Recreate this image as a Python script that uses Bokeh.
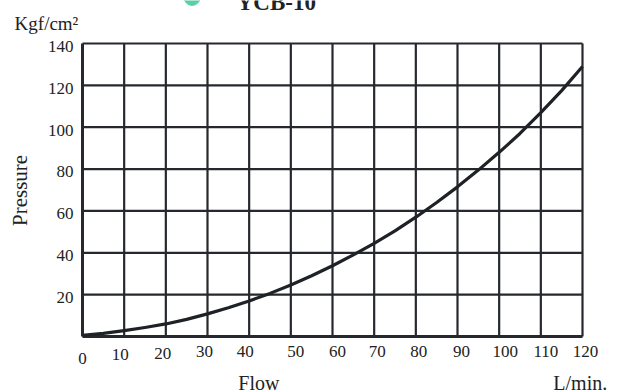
import math
from bokeh.plotting import figure
from bokeh.models import Range1d, ColumnDataSource
from bokeh.core.properties import value
from bokeh.embed import file_html
from bokeh.resources import INLINE

# Data
flow = [0, 5, 10, 15, 20, 25, 30, 35, 40, 45, 50, 55, 60, 65, 70, 75, 80, 85, 90,
        95, 100, 105, 110, 115, 120]
pressure = [0.5, 1.5, 2.8, 4.3, 6, 8.2, 10.8, 13.7, 17, 20.6, 24.6, 29, 33.8, 39,
            44.5, 50.5, 57, 64, 71.5, 79.5, 88, 97, 107, 117.5, 129]
x_ticks = [0, 10, 20, 30, 40, 50, 60, 70, 80, 90, 100, 110, 120]
x_tick_labels = ["0", "10", "20", "30", "40", "50", "60", "70", "80", "90", "100", "110", "120"]
y_ticks = [20, 40, 60, 80, 100, 120, 140]
y_tick_labels = ["20", "40", "60", "80", "100", "120", "140"]
x_grid = [10, 20, 30, 40, 50, 60, 70, 80, 90, 100, 110, 120]
y_grid = [20, 40, 60, 80, 100, 120, 140]
X_MAX, Y_MAX = 120, 140

# label placement styles (pixel nudges of the staggered tick labels)
x_label_dx = [0, -4, -3, -3, -4, 5, 5, 3, 3, 4, 6, 5, 3]
x_label_dy = [21.9, 18.2, 16.9, 14.9, 14.9, 14.5, 14.5, 14.5, 14.5, 14.5, 14.5, 14.5, 14.5]

FONT = "Liberation Serif"
INK = "#25292e"
TXT = "#222222"

# Frame covers the whole canvas; the chart box (0..120, 0..140) sits at
# px 82..582 horizontally and 43..336 vertically.
W, H = 635, 392
L, R, T, B = 82, 582, 43, 336
sx = (R - L) / X_MAX
sy = (B - T) / Y_MAX
xr = Range1d(-L / sx, (W - L) / sx)
yr = Range1d(-(H - B) / sy, B / sy)

p = figure(width=W, height=H, output_backend="svg", toolbar_location=None,
           x_range=xr, y_range=yr, x_axis_type=None, y_axis_type=None,
           min_border=0)
p.outline_line_color = None
p.background_fill_color = "white"
p.border_fill_color = "white"
p.grid.visible = False

# grid / box lines
p.segment(x0=x_grid, y0=[0] * len(x_grid), x1=x_grid, y1=[Y_MAX] * len(x_grid),
          line_color=INK, line_width=2.2)
p.segment(x0=[0] * len(y_grid), y0=y_grid, x1=[X_MAX] * len(y_grid), y1=y_grid,
          line_color=INK, line_width=2.2)
# axis lines
p.segment(x0=[0, 0], y0=[0, 0], x1=[X_MAX, 0], y1=[0, Y_MAX], line_color=INK, line_width=3)

# tick labels
xsrc = ColumnDataSource(dict(x=x_ticks, y=[0] * len(x_ticks), t=x_tick_labels,
                             dx=x_label_dx, dy=x_label_dy))
p.text(x="x", y="y", text="t", x_offset="dx", y_offset="dy", source=xsrc,
       text_font=value(FONT), text_font_size="17px", text_color=TXT,
       text_align="center", text_baseline="alphabetic")
ysrc = ColumnDataSource(dict(x=[0] * len(y_ticks), y=y_ticks, t=y_tick_labels))
p.text(x="x", y="y", text="t", source=ysrc, x_offset=-9, y_offset=2.8,
       text_font=value(FONT), text_font_size="17px", text_color=TXT,
       text_align="right", text_baseline="alphabetic")

p.line(flow, pressure, line_width=3.2, color="#1e2227", line_join="round")

def txt(x, y, text, size, **kw):
    kw.setdefault("text_baseline", "alphabetic")
    p.text(x=[x], y=[y], text=[text], text_font=value(FONT), text_font_size=size,
           text_color=TXT, **kw)

txt(-16.3, 149.7, "Kgf/cm²", "19px")
txt(37.0, 159.6, "YCB-10", "23px", text_font_style="bold")
txt(37.4, -22.2, "Flow", "20px")
txt(113.0, -22.2, "L/min.", "20px")
txt(-14.9, 69.8, "Pressure", "21px", angle=math.pi / 2, text_align="center",
    text_baseline="middle")
p.scatter(x=[26.3], y=[162.0], size=16, color="#5ccfa8")

open("out.html", "w").write(file_html(p, INLINE))
